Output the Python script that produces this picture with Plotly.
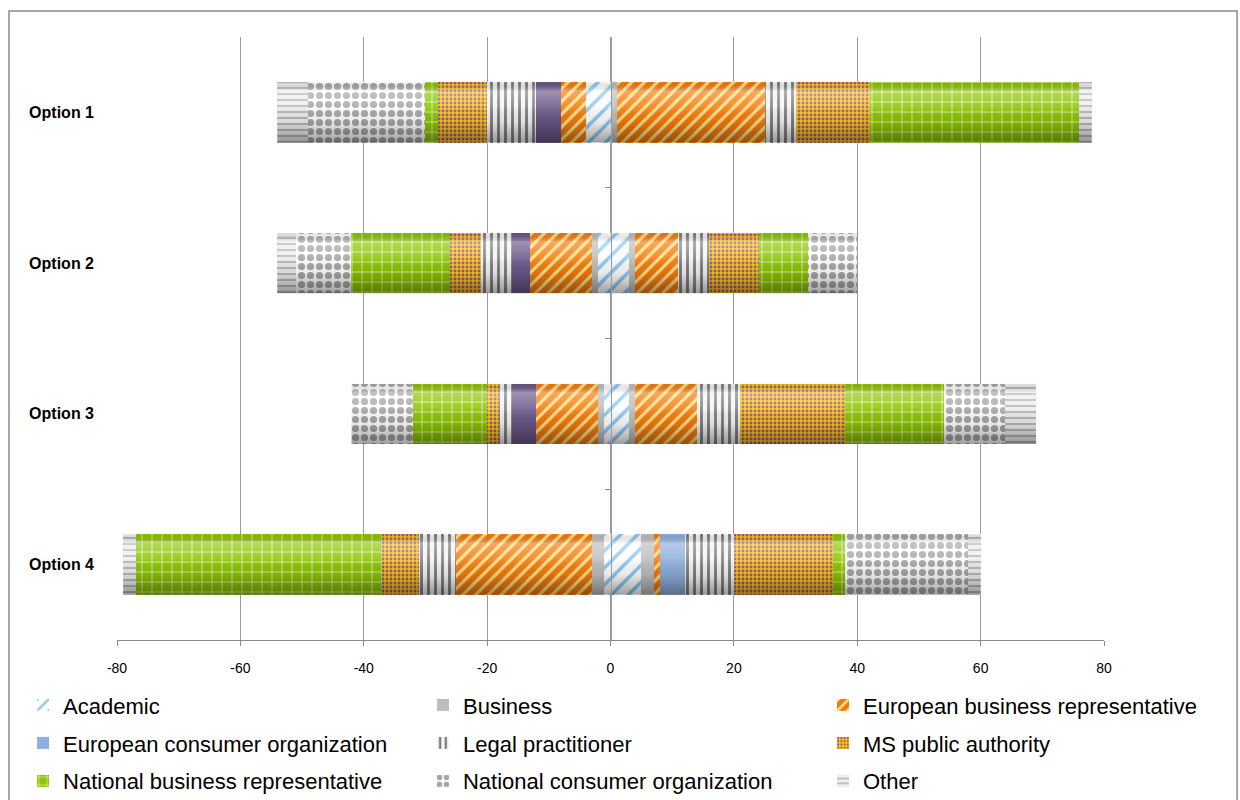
import plotly.graph_objects as go

options = ["Option 1", "Option 2", "Option 3", "Option 4"]
groups = ["Academic", "Business", "European business representative",
          "European consumer organization", "Legal practitioner", "MS public authority",
          "National business representative", "National consumer organization", "Other"]

# responses against each option (drawn to the left of zero), per group
against_academic = [4, 2, 1, 1]
against_business = [0, 1, 1, 2]
against_eur_business = [4, 10, 10, 22]
against_eur_consumer = [4, 3, 4, 0]
against_legal = [8, 5, 2, 6]
against_ms_authority = [8, 5, 2, 6]
against_nat_business = [2, 16, 12, 40]
against_nat_consumer = [19, 9, 10, 0]
against_other = [5, 3, 0, 2]

# responses in favour of each option (drawn to the right of zero), per group
favour_academic = [0, 3, 3, 5]
favour_business = [1, 1, 1, 2]
favour_eur_business = [24, 7, 10, 1]
favour_eur_consumer = [0, 0, 0, 4]
favour_legal = [5, 5, 7, 8]
favour_ms_authority = [12, 8, 17, 16]
favour_nat_business = [34, 8, 16, 2]
favour_nat_consumer = [0, 8, 10, 20]
favour_other = [2, 0, 5, 2]

x_ticks = [-80, -60, -40, -20, 0, 20, 40, 60, 80]

against = [against_academic, against_business, against_eur_business, against_eur_consumer,
           against_legal, against_ms_authority, against_nat_business, against_nat_consumer,
           against_other]
favour = [favour_academic, favour_business, favour_eur_business, favour_eur_consumer,
          favour_legal, favour_ms_authority, favour_nat_business, favour_nat_consumer,
          favour_other]

# fill style per group: (pattern shape, foreground, background, pattern size, solidity)
styles = [
    ("/", "#8cc8f2", "#ffffff", 12, 0.3),
    ("", "#bdbdbd", "#bdbdbd", 8, 0.3),
    ("/", "#ffe48a", "#f57a0a", 9, 0.35),
    ("", "#8eaedc", "#8eaedc", 8, 0.3),
    ("|", "#7a7a7a", "#f4f4f4", 7, 0.4),
    (".", "#b04a94", "#f2d200", 4, 0.4),
    ("+", "#eaf7c8", "#8cc400", 10, 0.15),
    (".", "#a6a6a6", "#ffffff", 9, 0.5),
    ("-", "#b8b8b8", "#eeeeee", 6, 0.35),
]
against_purple = "#6a5688"

ypos = [len(options) - 1 - i for i in range(len(options))]
BAR_W = 0.4
font_main = "Liberation Sans, Arial, sans-serif"

fig = go.Figure()
legend_ids = ["legend"] + ["legend%d" % n for n in range(2, len(groups) + 1)]

for k, name in enumerate(groups):
    shape, fg, bg, size, solid = styles[k]
    neg_bg = against_purple if k == 3 else bg
    neg_fg = against_purple if k == 3 else fg
    fig.add_trace(go.Bar(
        x=[-v for v in against[k]], y=ypos, orientation="h", width=BAR_W,
        name=name, legendgroup=name, showlegend=False,
        marker=dict(color=neg_bg, line=dict(width=0),
                    pattern=dict(shape=shape, fgcolor=neg_fg, bgcolor=neg_bg,
                                 size=size, solidity=solid, fillmode="replace")),
        hovertemplate=name + ": %{x}<extra></extra>",
    ))
    fig.add_trace(go.Bar(
        x=favour[k], y=ypos, orientation="h", width=BAR_W,
        name=name, legendgroup=name, showlegend=True, legend=legend_ids[k],
        marker=dict(color=bg, line=dict(width=0),
                    pattern=dict(shape=shape, fgcolor=fg, bgcolor=bg,
                                 size=size, solidity=solid, fillmode="replace")),
        hovertemplate=name + ": %{x}<extra></extra>",
    ))

# cylinder-like shading laid over each full bar
for i in range(len(options)):
    left = -sum(a[i] for a in against)
    right = sum(f[i] for f in favour)
    y0, y1 = ypos[i] - BAR_W / 2, ypos[i] + BAR_W / 2
    fig.add_trace(go.Scatter(
        x=[left, right, right, left, left], y=[y0, y0, y1, y1, y0],
        mode="lines", line=dict(width=0), fill="toself",
        fillgradient=dict(type="vertical", colorscale=[
            [0.0, "rgba(0,0,0,0.38)"], [0.35, "rgba(0,0,0,0.08)"],
            [0.6, "rgba(255,255,255,0.15)"], [0.85, "rgba(255,255,255,0.35)"],
            [1.0, "rgba(0,0,0,0.05)"]]),
        showlegend=False, hoverinfo="skip",
    ))

# vertical axis through zero with ticks between the options
fig.add_trace(go.Scatter(x=[None], y=[None], yaxis="y2", showlegend=False, hoverinfo="skip"))

# legend laid out as a 3 x 3 grid below the axis
legend_cols = [-0.0952, 0.3100, 0.7153]
legend_rows = [-0.108, -0.171, -0.234]
legend_layout = {}
for k, lid in enumerate(legend_ids):
    legend_layout[lid] = dict(
        x=legend_cols[k % 3], y=legend_rows[k // 3], xanchor="left", yanchor="middle",
        orientation="h", font=dict(family=font_main, size=22, color="#000000"),
        bgcolor="rgba(0,0,0,0)", itemclick=False, itemdoubleclick=False)

fig.update_layout(
    width=1240, height=800,
    margin=dict(l=117, r=136, t=37, b=160, autoexpand=False),
    paper_bgcolor="white", plot_bgcolor="white",
    barmode="relative", bargap=0,
    xaxis=dict(range=[-80, 80], tickvals=x_ticks, ticktext=[str(v) for v in x_ticks],
               showgrid=True, gridcolor="#9a9a9a", gridwidth=1, zeroline=False,
               showline=True, linecolor="#8a8a8a", linewidth=1,
               ticks="outside", ticklen=5, tickcolor="#8a8a8a",
               tickfont=dict(family=font_main, size=14, color="#000000"),
               ticklabelstandoff=10, fixedrange=True),
    yaxis=dict(range=[-0.5, len(options) - 0.5], tickvals=ypos, ticktext=options,
               showgrid=False, zeroline=False, showline=False, ticks="",
               tickfont=dict(family=font_main, size=16, color="#000000", weight="bold"),
               ticklabelstandoff=22, fixedrange=True),
    yaxis2=dict(range=[-0.5, len(options) - 0.5], overlaying="y", anchor="free",
                position=0.5, side="left", tickvals=[0.5, 1.5, 2.5],
                showticklabels=False, ticks="outside", ticklen=6, tickcolor="#8a8a8a",
                showline=True, linecolor="#9a9a9a", linewidth=1, showgrid=False,
                zeroline=False, fixedrange=True),
    shapes=[dict(type="rect", xref="paper", yref="paper",
                 x0=-0.1094, x1=1.1348, y0=-0.3, y1=1.0431,
                 line=dict(color="#8a8a8a", width=1.5), fillcolor="rgba(0,0,0,0)",
                 layer="below")],
    showlegend=True,
    **legend_layout,
)

fig.write_html("out.html")
